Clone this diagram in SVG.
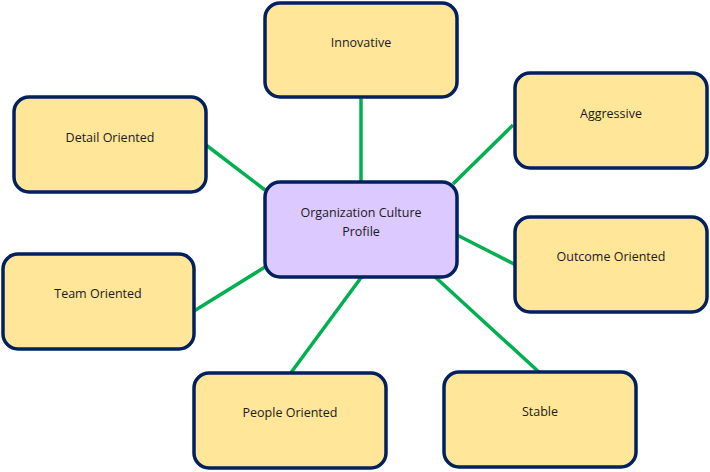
<svg xmlns="http://www.w3.org/2000/svg" width="710" height="472" viewBox="0 0 710 472">
<style>
.node rect{fill:#FFE699;stroke:#002060;stroke-width:3.5}
#center rect{fill:#DCC9FF}
text{font-family:"Open Sans","Noto Sans","Liberation Sans",sans-serif;font-size:12.5px;fill:#1a1a1a;text-anchor:middle;dominant-baseline:central}
#connectors line{stroke:#00B050;stroke-width:3.5}
</style>
<rect width="710" height="472" fill="#ffffff"/>
<g id="connectors">
<line x1="361" y1="98" x2="361" y2="182"/>
<line x1="513" y1="125" x2="453" y2="184"/>
<line x1="457" y1="235" x2="516" y2="265"/>
<line x1="433" y1="275" x2="540" y2="373"/>
<line x1="363" y1="275" x2="290" y2="374"/>
<line x1="265" y1="267" x2="194" y2="311"/>
<line x1="206" y1="145" x2="265" y2="190"/>
</g>
<g id="center" class="node"><rect x="265" y="182" width="192" height="95" rx="15"/><text x="361" y="212">Organization Culture</text><text x="361" y="231">Profile</text></g>
<g id="innovative" class="node"><rect x="265" y="3" width="192" height="94" rx="15"/><text x="361" y="42">Innovative</text></g>
<g id="aggressive" class="node"><rect x="515" y="73" width="192" height="95" rx="15"/><text x="611" y="113">Aggressive</text></g>
<g id="outcome" class="node"><rect x="515" y="217" width="192" height="95" rx="15"/><text x="611" y="256">Outcome Oriented</text></g>
<g id="stable" class="node"><rect x="444" y="372" width="192" height="95" rx="15"/><text x="540" y="411">Stable</text></g>
<g id="people" class="node"><rect x="194" y="373" width="192" height="95" rx="15"/><text x="290" y="412">People Oriented</text></g>
<g id="team" class="node"><rect x="3" y="254" width="191" height="95" rx="15"/><text x="98" y="293">Team Oriented</text></g>
<g id="detail" class="node"><rect x="14" y="97" width="192" height="95" rx="15"/><text x="110" y="137">Detail Oriented</text></g>
</svg>
